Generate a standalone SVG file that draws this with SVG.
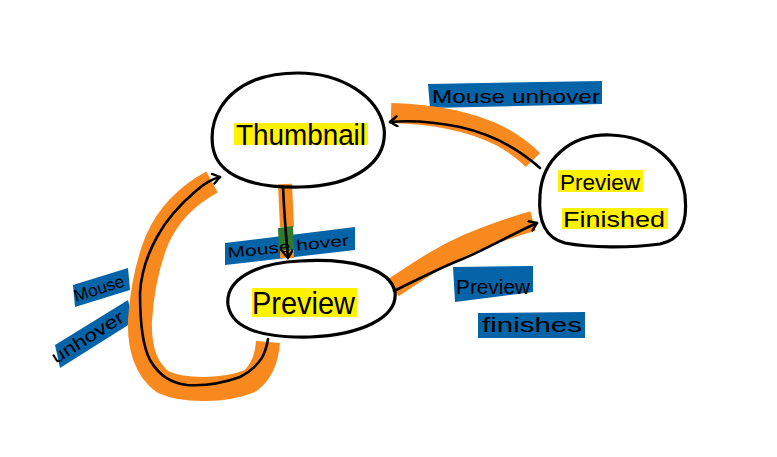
<svg xmlns="http://www.w3.org/2000/svg" width="777" height="457" viewBox="0 0 777 457">
<style>
.node{fill:none;stroke:#000;stroke-width:3.2;stroke-linecap:round;stroke-linejoin:round}
.hl{fill:#FFF200}
.lab{fill:#0563A8}
.band{fill:none;stroke:#F7891E;stroke-linejoin:round}
.line{fill:none;stroke:#000;stroke-width:2.6;stroke-linecap:round;stroke-linejoin:round}
.t{font-family:"Liberation Sans","DejaVu Sans",sans-serif;fill:#000}
</style>
<defs>
<marker id="ah" markerWidth="12" markerHeight="12" refX="9" refY="6" orient="auto" markerUnits="userSpaceOnUse">
<path d="M2,1 L9,6 L2,11" fill="none" stroke="#000" stroke-width="2.4" stroke-linecap="round" stroke-linejoin="round"/>
</marker>
</defs>
<rect width="777" height="457" fill="#fff"/>

<g id="labels">
<polygon class="lab" points="428,84 602,81 602,104 430,108"/>
<text class="t" x="432" y="103" font-size="19" textLength="168" lengthAdjust="spacingAndGlyphs">Mouse unhover</text>

<polygon class="lab" points="225,243 355,227 355,250 225,265"/>

<polygon class="lab" points="73,285 128,268 130,290 75,307"/>
<text class="t" x="76" y="302" font-size="17" textLength="52" lengthAdjust="spacingAndGlyphs" transform="rotate(-18 76 302)">Mouse</text>

<polygon class="lab" points="55,345 128,300 133,322 60,368"/>
<text class="t" x="56" y="364" font-size="18" textLength="82" lengthAdjust="spacingAndGlyphs" transform="rotate(-32 56 364)">unhover</text>

<polygon class="lab" points="453,267 533,266 533,292 455,302"/>
<text class="t" x="456" y="294" font-size="21" textLength="74" lengthAdjust="spacingAndGlyphs">Preview</text>

<polygon class="lab" points="478,313 585,312 585,338 478,338"/>
<text class="t" x="482" y="332" font-size="21" textLength="100" lengthAdjust="spacingAndGlyphs">finishes</text>
</g>

<g id="connectors">
<!-- orange highlight bands -->
<path class="band" stroke-width="20" d="M391,113 C430,114 470,121 500,136 C515,144 525,152 533,160"/>
<path class="band" stroke-width="20" d="M393,288 C420,270 440,256 470,243 C495,233 515,226 533,221"/>
<path class="band" stroke-width="14" d="M285,184 L287,227 M287,250 L287,258"/>
<path fill="#2E7A2E" d="M278,228 L293,226 L294,249 L279,251 Z"/>
<path class="band" stroke-width="24" d="M212,182 C188,195 168,215 157,240 C147,265 142,290 140,320 C139,347 146,370 163,382 C185,392 225,391 250,381 C263,371 267,355 268,342"/>
<!-- black arrows -->
<path class="line" marker-end="url(#ah)" d="M540,168 C520,150 495,135 460,127 C430,121 410,120 390,122"/>
<path class="line" marker-end="url(#ah)" d="M394,291 C420,278 440,268 460,260 C485,250 510,235 537,223"/>
<path class="line" marker-end="url(#ah)" d="M283,187 C284,210 286,235 288,258"/>
<path class="line" marker-end="url(#ah)" d="M268,339 C266,352 262,365 240,377 C220,384 200,386 187,385 C172,383 160,377 150,360 C142,345 140,320 140,293 C141,275 147,255 157,237 C165,222 178,206 197,190 C205,183 212,179 220,177"/>
</g>

<text class="t" x="228" y="258" font-size="15" textLength="122" lengthAdjust="spacingAndGlyphs" transform="rotate(-6 228 258)">Mouse hover</text>

<g id="node-thumbnail">
<path class="node" d="M298,73 C340,73 378,95 384,128 C388,162 355,186 300,187 C250,188 218,175 213,148 C208,118 225,92 255,80 C268,75 283,73 298,73 Z"/>
<rect class="hl" x="234" y="123" width="134" height="22"/>
<text class="t" x="236" y="145" font-size="29" textLength="130" lengthAdjust="spacingAndGlyphs">Thumbnail</text>
</g>

<g id="node-preview">
<path class="node" d="M300,261 C350,258 390,268 395,292 C398,318 360,335 310,337 C265,338 232,330 228,305 C225,280 255,263 300,261 Z"/>
<rect class="hl" x="252" y="288" width="105" height="29"/>
<text class="t" x="252" y="314" font-size="32" textLength="103" lengthAdjust="spacingAndGlyphs">Preview</text>
</g>

<g id="node-preview-finished">
<path class="node" d="M610,135 C650,136 680,160 685,195 C688,225 680,240 660,244 C630,248 590,248 565,243 C545,238 538,220 540,195 C542,160 570,134 610,135 Z"/>
<rect class="hl" x="558" y="170" width="85" height="22"/>
<text class="t" x="560" y="190" font-size="22" textLength="80" lengthAdjust="spacingAndGlyphs">Preview</text>
<rect class="hl" x="562" y="208" width="106" height="21"/>
<text class="t" x="563" y="227" font-size="22" textLength="102" lengthAdjust="spacingAndGlyphs">Finished</text>
</g>
</svg>
